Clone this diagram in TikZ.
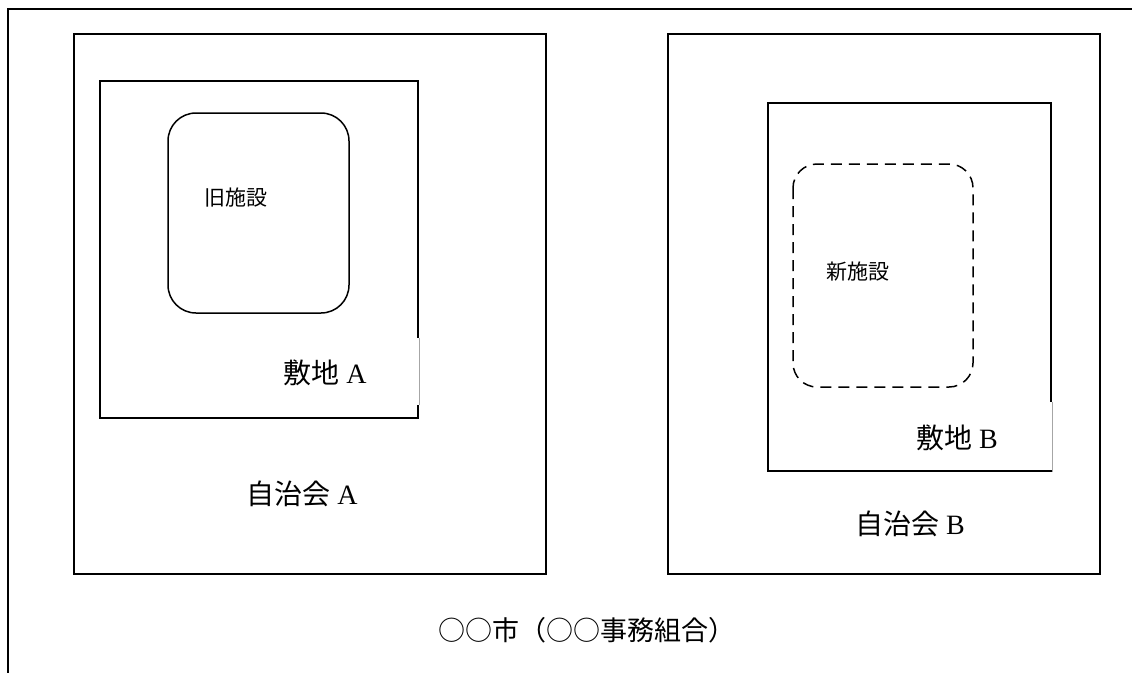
\documentclass[tikz,border=0pt]{standalone}
\usepackage{fontspec}
\setmainfont{Liberation Serif}
\newfontfamily\jp{Noto Sans CJK JP}
\begin{document}
\begin{tikzpicture}[x=1pt,y=-1pt,
  frame/.style={draw=black,line width=1.9pt},
  fac/.style={draw=black,line width=1.5pt,rounded corners=28pt},
  newfac/.style={draw=black,line width=1.5pt,rounded corners=24pt,dash pattern=on 11pt off 7pt},
  big/.style={font=\fontsize{28}{32}\selectfont,inner sep=0pt},
  small/.style={font=\jp\fontsize{21}{24}\selectfont,inner sep=0pt},
  lblbox/.style={fill=white,draw=none}]
\useasboundingbox (0,0) rectangle (1132,672);
\fill[white] (0,0) rectangle (1132,672);
% outer frame (cropped)
\draw[frame] (8,680) -- (8,9) -- (1140,9);
% 自治会 A
\draw[frame] (74,34) rectangle (546,574);
\draw[frame] (100,81) rectangle (418,418);
\draw[fac] (168,113) rectangle (349,313);
% 自治会 B
\draw[frame] (668,34) rectangle (1100,574);
\draw[frame] (768,103) rectangle (1051,471);
\draw[newfac] (793,164) rectangle (973,387);
% label boxes
\fill[white] (265,338) rectangle (420,405);
\draw[gray!70,line width=0.6pt] (419.5,338) -- (419.5,405);
\fill[white] (895,402) rectangle (1053,469.5);
\draw[gray!70,line width=0.6pt] (1052,402) -- (1052,472);
% texts
\node[small] (old) at (236,198) {旧施設};
\node[small] (new) at (858,272) {新施設};
\node[big] (siteA) at (325,373) {{\jp 敷地} A};
\node[big] (siteB) at (957,438) {{\jp 敷地} B};
\node[big] (jA) at (302,494) {{\jp 自治会} A};
\node[big] (jB) at (910,524) {{\jp 自治会} B};
\node[big,font=\jp\fontsize{27}{30}\selectfont] (city) at (587,630) {○○市（○○事務組合）};
\end{tikzpicture}
\end{document}
